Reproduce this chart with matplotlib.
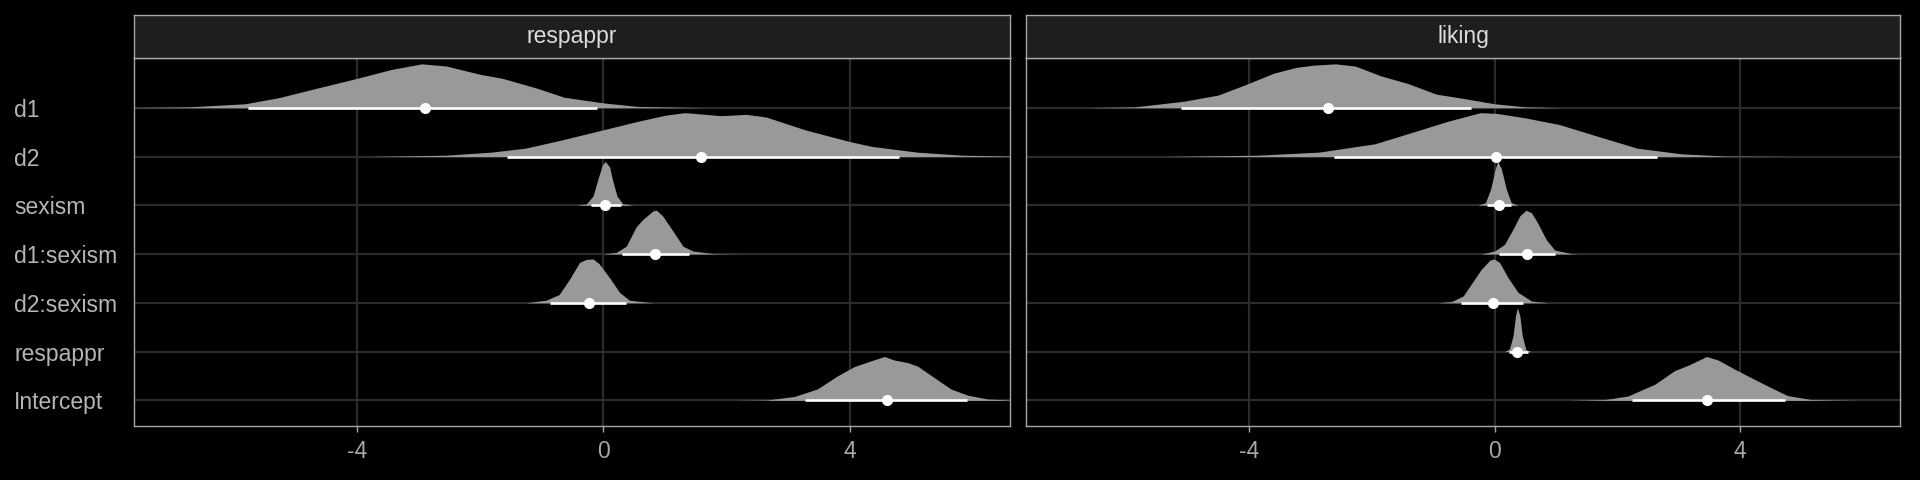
import numpy as np
import matplotlib
matplotlib.use('Agg')
import matplotlib.pyplot as plt

# parameters, top row first
params = ['d1', 'd2', 'sexism', 'd1:sexism', 'd2:sexism', 'respappr', 'Intercept']
responses = ['respappr', 'liking']
xticks = [-4, 0, 4]

# point (median) and interval bounds
respappr_med = [-2.90, 1.58, 0.03, 0.83, -0.24, np.nan, 4.60]
respappr_lo = [-5.77, -1.56, -0.21, 0.30, -0.86, np.nan, 3.27]
respappr_hi = [-0.10, 4.80, 0.29, 1.39, 0.36, np.nan, 5.90]
liking_med = [-2.72, 0.02, 0.065, 0.53, -0.03, 0.36, 3.46]
liking_lo = [-5.10, -2.61, -0.12, 0.065, -0.54, 0.24, 2.24]
liking_hi = [-0.38, 2.65, 0.27, 0.98, 0.47, 0.54, 4.72]

# posterior density profiles (x, relative height, peak = 1)
respappr_d1_x = [-7.63, -6.73, -5.82, -5.27, -4.64, -4.0, -3.45, -2.95, -2.55, -2.0, -1.64, -1.09, -0.64, 0.0, 0.55, 1.64]
respappr_d1_y = [0.005, 0.02, 0.09, 0.23, 0.45, 0.67, 0.87, 1.0, 0.95, 0.76, 0.67, 0.45, 0.24, 0.11, 0.03, 0.0]
respappr_d2_x = [-3.82, -2.55, -1.82, -1.27, -0.73, 0.0, 0.55, 1.0, 1.32, 1.91, 2.32, 2.64, 3.27, 4.0, 4.36, 5.09, 5.82, 6.6]
respappr_d2_y = [0.0, 0.03, 0.10, 0.19, 0.36, 0.61, 0.80, 0.94, 1.0, 0.93, 0.96, 0.90, 0.61, 0.34, 0.23, 0.10, 0.03, 0.01]
respappr_sexism_x = [-0.44, -0.28, -0.17, -0.09, -0.02, 0.03, 0.10, 0.15, 0.22, 0.31, 0.48]
respappr_sexism_y = [0.0, 0.03, 0.21, 0.60, 0.91, 1.0, 0.87, 0.56, 0.21, 0.04, 0.0]
respappr_d1sex_x = [-0.01, 0.21, 0.37, 0.53, 0.64, 0.80, 0.86, 0.96, 1.13, 1.29, 1.45, 1.78, 2.2]
respappr_d1sex_y = [0.0, 0.04, 0.18, 0.62, 0.79, 0.98, 1.0, 0.87, 0.52, 0.18, 0.07, 0.01, 0.0]
respappr_d2sex_x = [-1.26, -0.93, -0.72, -0.55, -0.39, -0.28, -0.17, -0.07, 0.10, 0.26, 0.42, 0.80]
respappr_d2sex_y = [0.0, 0.06, 0.19, 0.54, 0.92, 0.99, 1.0, 0.89, 0.57, 0.24, 0.06, 0.0]
respappr_int_x = [2.12, 2.66, 3.10, 3.47, 3.80, 4.07, 4.34, 4.56, 4.72, 4.94, 5.10, 5.37, 5.64, 5.91, 6.24, 6.6]
respappr_int_y = [0.0, 0.01, 0.09, 0.26, 0.56, 0.77, 0.90, 1.0, 0.92, 0.86, 0.78, 0.52, 0.26, 0.12, 0.03, 0.01]

liking_d1_x = [-6.64, -5.86, -5.05, -4.5, -4.05, -3.59, -3.23, -2.95, -2.59, -2.27, -1.86, -1.41, -0.95, -0.5, 0.0, 0.5, 1.09]
liking_d1_y = [0.0, 0.02, 0.15, 0.29, 0.53, 0.79, 0.92, 0.97, 1.0, 0.95, 0.73, 0.55, 0.31, 0.21, 0.09, 0.02, 0.0]
liking_d2_x = [-5.4, -3.86, -2.86, -1.95, -1.32, -0.77, -0.23, 0.05, 0.5, 1.05, 1.68, 2.32, 3.05, 3.77, 4.86]
liking_d2_y = [0.0, 0.03, 0.10, 0.29, 0.56, 0.80, 1.0, 0.98, 0.88, 0.73, 0.46, 0.19, 0.06, 0.01, 0.0]
liking_sexism_x = [-0.27, -0.15, -0.065, 0.01, 0.05, 0.11, 0.19, 0.27, 0.38]
liking_sexism_y = [0.0, 0.06, 0.37, 0.83, 1.0, 0.83, 0.37, 0.06, 0.0]
liking_d1sex_x = [-0.22, 0.0, 0.16, 0.30, 0.41, 0.51, 0.60, 0.70, 0.84, 0.98, 1.25, 1.35]
liking_d1sex_y = [0.0, 0.07, 0.22, 0.57, 0.87, 1.0, 0.94, 0.71, 0.33, 0.09, 0.01, 0.0]
liking_d2sex_x = [-0.92, -0.70, -0.51, -0.38, -0.22, -0.08, -0.01, 0.08, 0.22, 0.38, 0.60, 0.87]
liking_d2sex_y = [0.0, 0.03, 0.16, 0.43, 0.76, 0.97, 1.0, 0.92, 0.57, 0.24, 0.04, 0.0]
liking_resp_x = [0.16, 0.24, 0.30, 0.34, 0.37, 0.41, 0.45, 0.51, 0.60]
liking_resp_y = [0.0, 0.06, 0.36, 0.82, 1.0, 0.82, 0.36, 0.04, 0.0]
liking_int_x = [1.2, 1.8, 2.17, 2.61, 2.93, 3.15, 3.45, 3.64, 3.91, 4.23, 4.5, 4.77, 5.15, 5.91]
liking_int_y = [0.0, 0.02, 0.10, 0.37, 0.68, 0.80, 1.0, 0.92, 0.71, 0.48, 0.29, 0.11, 0.02, 0.0]

dens = {
    'respappr': [(respappr_d1_x, respappr_d1_y), (respappr_d2_x, respappr_d2_y),
                 (respappr_sexism_x, respappr_sexism_y), (respappr_d1sex_x, respappr_d1sex_y),
                 (respappr_d2sex_x, respappr_d2sex_y), None, (respappr_int_x, respappr_int_y)],
    'liking': [(liking_d1_x, liking_d1_y), (liking_d2_x, liking_d2_y),
               (liking_sexism_x, liking_sexism_y), (liking_d1sex_x, liking_d1sex_y),
               (liking_d2sex_x, liking_d2sex_y), (liking_resp_x, liking_resp_y),
               (liking_int_x, liking_int_y)],
}
intervals = {
    'respappr': (respappr_med, respappr_lo, respappr_hi),
    'liking': (liking_med, liking_lo, liking_hi),
}

plt.rcParams['font.family'] = ['Liberation Sans', 'DejaVu Sans']

fig = plt.figure(figsize=(19.2, 4.8), dpi=100, facecolor='black')

lefts = [133.5 / 1920, 1026 / 1920]
widths = [876.5 / 1920, 874 / 1920]
ybot, yh = 1 - 426 / 480, (426 - 57.5) / 480
sbot, sh = 1 - 57.5 / 480, (57.5 - 14.7) / 480

grid_c = '#2b2b2b'
edge_c = '#a6a6a6'
slab_c = '#999999'
scale = 0.9
n = len(params)
ypos = [n - 1 - i for i in range(n)]

for k, resp in enumerate(responses):
    ax = fig.add_axes([lefts[k], ybot, widths[k], yh])
    ax.set_facecolor('black')
    ax.set_xlim(-7.63, 6.6)
    ax.set_ylim(-0.525, n - 1 + 1.03)
    for xv in xticks:
        ax.axvline(xv, color=grid_c, lw=1.6, zorder=0)
    for yv in ypos:
        ax.axhline(yv, color=grid_c, lw=1.6, zorder=0)

    med, lo, hi = intervals[resp]
    for i, p in enumerate(params):
        d = dens[resp][i]
        if d is None:
            continue
        y0 = ypos[i]
        xs = np.array(d[0])
        hs = np.array(d[1]) * scale
        ax.fill_between(xs, y0, y0 + hs, color=slab_c, lw=0, zorder=2)
        ax.plot([lo[i], hi[i]], [y0, y0], color='white', lw=1.9, solid_capstyle='butt', zorder=3)
        ax.plot(med[i], y0, 'o', color='white', ms=8, mec='none', zorder=4)

    ax.set_xticks(xticks)
    ax.set_xticklabels([str(v) for v in xticks])
    ax.set_yticks(ypos)
    if k == 0:
        ax.set_yticklabels(params, ha='left')
        ax.tick_params(axis='y', length=0, pad=86, labelsize=16.5, labelcolor='#b5b5b5')
    else:
        ax.set_yticklabels([])
        ax.tick_params(axis='y', length=0)
    ax.tick_params(axis='x', length=4, width=1, color=edge_c, labelsize=16.5,
                   labelcolor='#a8a8a8', pad=6)
    for s in ax.spines.values():
        s.set_color(edge_c)
        s.set_linewidth(1.0)

    st = fig.add_axes([lefts[k], sbot, widths[k], sh])
    st.set_facecolor('#1e1e1e')
    st.set_xticks([])
    st.set_yticks([])
    for s in st.spines.values():
        s.set_color(edge_c)
        s.set_linewidth(1.0)
    st.text(0.5, 0.5, resp, transform=st.transAxes, ha='center', va='center',
            fontsize=16.5, color='#dcdcdc')

fig.savefig('out.png', dpi=100, facecolor='black')
